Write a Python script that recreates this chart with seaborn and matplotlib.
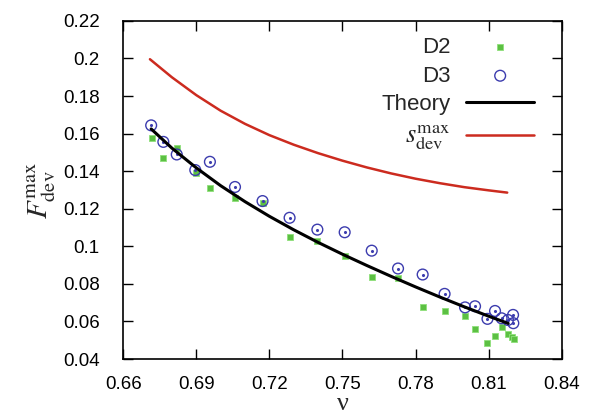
import matplotlib
matplotlib.use("Agg")
import matplotlib.pyplot as plt
import seaborn as sns
import pandas as pd

# ---- data ----
d3_nu = [0.6715, 0.6765, 0.6820, 0.6896, 0.6956, 0.7059, 0.7172, 0.7283, 0.7397, 0.7509,
         0.7620, 0.7728, 0.7829, 0.7919, 0.8003, 0.8044, 0.8095, 0.8126, 0.8153, 0.8179,
         0.8200, 0.8201]
d3_F = [0.1644, 0.1556, 0.1489, 0.1406, 0.1450, 0.1316, 0.1241, 0.1152, 0.1089, 0.1075,
        0.0977, 0.0882, 0.0850, 0.0747, 0.0675, 0.0681, 0.0614, 0.0656, 0.0617, 0.0608,
        0.0635, 0.0591]
d2_nu = [0.6717, 0.6765, 0.6822, 0.6899, 0.6956, 0.7059, 0.7172, 0.7283, 0.7397, 0.7509,
         0.7620, 0.7728, 0.7829, 0.7919, 0.8003, 0.8044, 0.8095, 0.8126, 0.8153, 0.8179,
         0.8197, 0.8204]
d2_F = [0.1579, 0.1470, 0.1521, 0.1390, 0.1312, 0.1259, 0.1229, 0.1050, 0.1027, 0.0946,
        0.0839, 0.0830, 0.0675, 0.0657, 0.0630, 0.0560, 0.0483, 0.0521, 0.0569, 0.0534,
        0.0515, 0.0507]
theory_nu = [0.6715, 0.680, 0.690, 0.700, 0.710, 0.720, 0.730, 0.740, 0.750, 0.760,
             0.770, 0.780, 0.790, 0.800, 0.810, 0.818]
theory_F = [0.1625, 0.1523, 0.1418, 0.1323, 0.1238, 0.1160, 0.1088, 0.1021, 0.0958, 0.0898,
            0.0840, 0.0784, 0.0730, 0.0678, 0.0628, 0.0590]
sdev_nu = [0.671, 0.680, 0.690, 0.700, 0.710, 0.720, 0.730, 0.740, 0.750, 0.760,
           0.770, 0.780, 0.790, 0.800, 0.810, 0.8176]
sdev_F = [0.1996, 0.1900, 0.1805, 0.1722, 0.1652, 0.1592, 0.1541, 0.1496, 0.1456, 0.1420,
          0.1388, 0.1360, 0.1336, 0.1315, 0.1298, 0.1286]
x_ticks = [0.66, 0.69, 0.72, 0.75, 0.78, 0.81, 0.84]
x_tick_labels = ["0.66", "0.69", "0.72", "0.75", "0.78", "0.81", "0.84"]
y_ticks = [0.04, 0.06, 0.08, 0.10, 0.12, 0.14, 0.16, 0.18, 0.20, 0.22]
y_tick_labels = ["0.04", "0.06", "0.08", "0.1", "0.12", "0.14", "0.16", "0.18", "0.2", "0.22"]

sns.set_style("ticks")
plt.rcParams['font.family'] = ['Liberation Sans', 'DejaVu Sans']
plt.rcParams['mathtext.fontset'] = 'stix'

fig = plt.figure(figsize=(5.92, 4.18), dpi=100)
ax = fig.add_axes([0.208, 0.141, 0.741, 0.809])

green = '#5cc043'
blue = '#3c3cae'
red = '#cc2b1f'

df2 = pd.DataFrame({'nu': d2_nu, 'F': d2_F})
df3 = pd.DataFrame({'nu': d3_nu, 'F': d3_F})
dft = pd.DataFrame({'nu': theory_nu, 'F': theory_F})
dfs = pd.DataFrame({'nu': sdev_nu, 'F': sdev_F})

sns.scatterplot(data=df2, x='nu', y='F', ax=ax, marker='s', s=22, color=green,
                edgecolor='#8fe07a', linewidth=0.6, label='D2', zorder=3)
sns.scatterplot(data=df3, x='nu', y='F', ax=ax, marker='o', s=60, facecolor='none',
                edgecolor=blue, linewidth=1.0, label='D3', zorder=4)
ax.scatter(d3_nu, d3_F, s=1.5, color=blue, zorder=4)
sns.lineplot(data=dft, x='nu', y='F', ax=ax, color='black', linewidth=2.2, label='Theory',
             sort=False, estimator=None, zorder=5)
sns.lineplot(data=dfs, x='nu', y='F', ax=ax, color=red, linewidth=1.8,
             label=r'$s_{\rm dev}^{\rm max}$', sort=False, estimator=None, zorder=2)

ax.set_xlim(0.66, 0.84)
ax.set_ylim(0.04, 0.22)
ax.set_xticks(x_ticks)
ax.set_xticklabels(x_tick_labels)
ax.set_yticks(y_ticks)
ax.set_yticklabels(y_tick_labels)
ax.tick_params(direction='in', length=7, width=1.0, labelsize=13.5, top=True, right=True,
               colors='black')
ax.tick_params(axis='y', pad=17)
ax.tick_params(axis='x', pad=12)
for sp in ax.spines.values():
    sp.set_visible(True)
    sp.set_linewidth(1.2)
    sp.set_color('black')

ax.set_xlabel('ν', fontsize=19, labelpad=0, family=['Liberation Serif', 'DejaVu Serif'])
ax.set_ylabel(r'$F_{\rm dev}^{\rm max}$', fontsize=21, labelpad=4)

leg = ax.legend(loc='upper right', frameon=False, markerfirst=False, fontsize=16,
                handlelength=3.05, handletextpad=0.7, labelspacing=0.33,
                bbox_to_anchor=(0.957, 0.978), borderaxespad=0.0)
texts = leg.get_texts()
for t in texts:
    t.set_ha('right')
    t.set_position((0, 0))
texts[3].set_fontsize(19)

fig.savefig('out.png', dpi=100, facecolor='white')
